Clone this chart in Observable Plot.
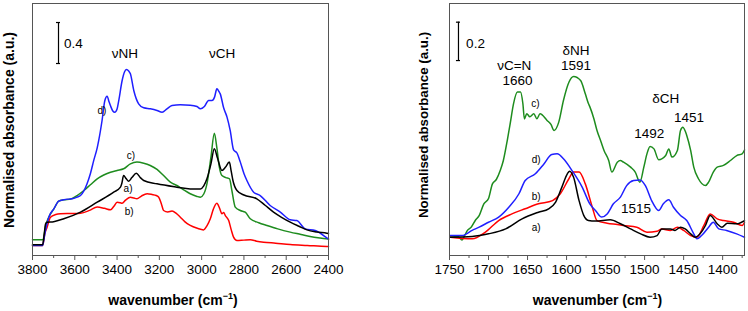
<!DOCTYPE html>
<html><head><meta charset="utf-8">
<script src="https://cdn.jsdelivr.net/npm/d3@7"></script>
<script src="https://cdn.jsdelivr.net/npm/@observablehq/plot@0.6"></script>
<style>
body{margin:0;background:#fff;}
#wrap{position:relative;width:748px;height:311px;font-family:"Liberation Sans",Arial,sans-serif;}
#left{position:absolute;left:0;top:0;}
#right{position:absolute;left:374px;top:0;}
svg{overflow:visible}
</style></head><body><div id="wrap"><div id="left"></div><div id="right"></div></div>
<script>
// ---------- Left panel (3800–2400 cm-1) ----------
const leftMajor=[3800,3600,3400,3200,3000,2800,2600,2400];
const leftMinor=[3700,3500,3300,3100,2900,2700,2500];
// a) black
const leftA=[[3800,0.104],[3752,0.104],[3745,0.2],[3738,0.31],[3731,0.325],[3700,0.33],[3652,0.358],[3573,0.423],[3494,0.52],[3416,0.618],[3384,0.667],[3378,0.70],[3369,0.78],[3357,0.75],[3345,0.725],[3330,0.76],[3309,0.803],[3290,0.76],[3274,0.732],[3211,0.699],[3117,0.667],[3054,0.65],[3006,0.65],[2990,0.68],[2975,0.748],[2956,0.894],[2940,1.041],[2925,0.95],[2904,0.829],[2888,0.86],[2869,0.911],[2860,0.82],[2852,0.732],[2833,0.634],[2800,0.59],[2739,0.553],[2700,0.49],[2660,0.423],[2620,0.37],[2581,0.325],[2540,0.285],[2502,0.25],[2455,0.23],[2408,0.218],[2400,0.215]];
// b) red
const leftB=[[3800,0.098],[3752,0.098],[3742,0.211],[3731,0.276],[3715,0.374],[3690,0.40],[3668,0.407],[3620,0.41],[3573,0.413],[3530,0.44],[3494,0.472],[3460,0.46],[3431,0.446],[3415,0.48],[3400,0.52],[3385,0.515],[3376,0.51],[3360,0.54],[3337,0.569],[3320,0.56],[3306,0.553],[3285,0.58],[3258,0.602],[3235,0.595],[3215,0.585],[3203,0.569],[3190,0.50],[3180,0.439],[3160,0.425],[3140,0.433],[3120,0.41],[3101,0.374],[3080,0.33],[3054,0.293],[3020,0.265],[2991,0.25],[2975,0.29],[2959,0.358],[2945,0.45],[2928,0.51],[2915,0.46],[2904,0.407],[2896,0.42],[2888,0.39],[2872,0.341],[2860,0.25],[2849,0.179],[2833,0.146],[2800,0.15],[2770,0.153],[2740,0.14],[2707,0.13],[2650,0.12],[2581,0.107],[2500,0.098],[2408,0.088],[2400,0.088]];
// c) green
const leftC=[[3800,0.153],[3750,0.153],[3745,0.2],[3739,0.276],[3723,0.374],[3699,0.455],[3676,0.53],[3652,0.543],[3620,0.55],[3589,0.585],[3557,0.634],[3526,0.69],[3494,0.748],[3463,0.785],[3431,0.813],[3400,0.83],[3369,0.846],[3337,0.894],[3306,0.911],[3274,0.90],[3243,0.878],[3211,0.84],[3180,0.78],[3148,0.715],[3117,0.683],[3085,0.64],[3054,0.602],[3022,0.576],[3006,0.569],[2990,0.60],[2975,0.699],[2956,0.959],[2940,1.193],[2928,1.05],[2916,0.86],[2904,0.78],[2885,0.76],[2868,0.748],[2857,0.634],[2841,0.472],[2817,0.439],[2794,0.423],[2770,0.358],[2730,0.32],[2691,0.293],[2640,0.26],[2581,0.228],[2530,0.205],[2487,0.185],[2440,0.17],[2400,0.16]];
// d) blue
const leftD=[[3800,0.098],[3752,0.098],[3745,0.17],[3739,0.24],[3723,0.374],[3699,0.455],[3676,0.53],[3652,0.543],[3630,0.55],[3613,0.553],[3589,0.57],[3573,0.585],[3557,0.63],[3542,0.70],[3526,0.80],[3510,0.93],[3494,1.05],[3487,1.12],[3471,1.317],[3458,1.51],[3447,1.554],[3438,1.50],[3431,1.46],[3420,1.41],[3411,1.398],[3400,1.43],[3392,1.512],[3376,1.707],[3365,1.79],[3356,1.815],[3345,1.80],[3337,1.772],[3321,1.61],[3298,1.48],[3274,1.441],[3243,1.431],[3211,1.415],[3187,1.398],[3164,1.431],[3140,1.463],[3101,1.47],[3054,1.467],[3022,1.454],[3006,1.431],[2987,1.454],[2967,1.512],[2951,1.512],[2939,1.545],[2928,1.626],[2918,1.60],[2912,1.577],[2896,1.441],[2880,1.35],[2865,1.22],[2849,1.03],[2833,1.0],[2817,0.911],[2800,0.80],[2786,0.732],[2754,0.618],[2723,0.585],[2676,0.488],[2628,0.423],[2581,0.348],[2550,0.341],[2510,0.26],[2463,0.244],[2408,0.172],[2400,0.16]];
const leftNotes=[{x:3363,y:1.968,t:"νNH"},{x:2903,y:1.968,t:"νCH"}];
const leftCurveTags=[{x:3472,y:1.415,t:"d)"},{x:3335,y:0.976,t:"c)"},{x:3348,y:0.651,t:"a)"},{x:3343,y:0.429,t:"b)"}];
const leftBar={x:3677,y1:1.873,y2:2.273,cap:9.5,label:"0.4",lx:3651,ly:2.065};

// ---------- Right panel (1750–1372 cm-1) ----------
const rightMajor=[1750,1700,1650,1600,1550,1500,1450,1400];
const rightMinor=[1725,1675,1625,1575,1525,1475,1425,1375];
const rightA=[[1749,0.096],[1721,0.100],[1700,0.114],[1678,0.140],[1657,0.193],[1636,0.228],[1623,0.246],[1614,0.281],[1606,0.360],[1599,0.430],[1596,0.444],[1591,0.412],[1584,0.289],[1578,0.211],[1572,0.184],[1563,0.181],[1544,0.188],[1531,0.167],[1518,0.140],[1505,0.114],[1493,0.096],[1484,0.105],[1478,0.14],[1467,0.14],[1461,0.132],[1454,0.149],[1448,0.140],[1441,0.114],[1435,0.096],[1429,0.114],[1422,0.158],[1416,0.211],[1407,0.167],[1401,0.149],[1394,0.170],[1382,0.167],[1372,0.184]];
const rightB=[[1749,0.096],[1721,0.088],[1704,0.123],[1687,0.184],[1670,0.219],[1653,0.246],[1636,0.272],[1618,0.289],[1608,0.325],[1597,0.404],[1591,0.439],[1584,0.439],[1576,0.377],[1567,0.254],[1561,0.184],[1548,0.170],[1535,0.163],[1527,0.158],[1510,0.149],[1497,0.123],[1484,0.128],[1478,0.140],[1467,0.132],[1458,0.149],[1450,0.132],[1441,0.105],[1433,0.096],[1424,0.158],[1416,0.219],[1407,0.193],[1399,0.184],[1386,0.175],[1375,0.158],[1372,0.175]];
const rightC=[[1749,0.096],[1739,0.10],[1734,0.082],[1730,0.11],[1727,0.132],[1722,0.15],[1717,0.184],[1712,0.21],[1706,0.272],[1700,0.30],[1695,0.377],[1690,0.40],[1685,0.447],[1681,0.50],[1676,0.605],[1672,0.70],[1668,0.798],[1663,0.86],[1659,0.86],[1656,0.80],[1654,0.719],[1651,0.746],[1647,0.73],[1642,0.746],[1638,0.72],[1634,0.746],[1625,0.711],[1620,0.69],[1616,0.658],[1610,0.702],[1604,0.816],[1597,0.912],[1591,0.942],[1582,0.921],[1576,0.851],[1572,0.80],[1570,0.781],[1565,0.72],[1561,0.658],[1556,0.60],[1552,0.553],[1546,0.50],[1542,0.439],[1535,0.491],[1531,0.50],[1527,0.491],[1518,0.465],[1512,0.439],[1506,0.386],[1501,0.465],[1497,0.535],[1493,0.574],[1488,0.561],[1482,0.504],[1473,0.526],[1469,0.561],[1465,0.518],[1458,0.553],[1454,0.658],[1451,0.675],[1446,0.632],[1441,0.553],[1437,0.465],[1431,0.404],[1422,0.368],[1418,0.386],[1412,0.439],[1407,0.465],[1399,0.474],[1390,0.50],[1382,0.526],[1375,0.535],[1372,0.555]];
const rightD=[[1749,0.105],[1734,0.105],[1721,0.132],[1712,0.149],[1700,0.175],[1687,0.202],[1674,0.254],[1661,0.325],[1653,0.395],[1640,0.430],[1629,0.482],[1619,0.532],[1612,0.535],[1604,0.509],[1593,0.447],[1580,0.36],[1570,0.27],[1563,0.237],[1555,0.202],[1548,0.219],[1540,0.272],[1531,0.307],[1523,0.368],[1514,0.395],[1506,0.398],[1499,0.368],[1491,0.289],[1482,0.237],[1476,0.272],[1469,0.293],[1463,0.254],[1454,0.211],[1446,0.184],[1437,0.114],[1433,0.088],[1427,0.105],[1418,0.149],[1412,0.175],[1405,0.14],[1395,0.132],[1382,0.114],[1372,0.096]];
const rightNotes=[{x:1667,y:1.0,t:"νC=N"},{x:1663,y:0.921,t:"1660"},{x:1588,y:1.079,t:"δNH"},{x:1588,y:1.0,t:"1591"},{x:1473,y:0.825,t:"δCH"},{x:1494,y:0.64,t:"1492"},{x:1443,y:0.728,t:"1451"},{x:1511,y:0.246,t:"1515"}];
const rightCurveTags=[{x:1640,y:0.798,t:"c)"},{x:1639,y:0.504,t:"d)"},{x:1639,y:0.307,t:"b)"},{x:1639,y:0.144,t:"a)"}];
const rightBar={x:1738.5,y1:1.026,y2:1.228,cap:2.6,label:"0.2",lx:1728.7,ly:1.114};

const colors={a:"#000000",b:"#ff0000",c:"#1e8c1e",d:"#1f1fff"};
const FONT='"Liberation Sans",Arial,sans-serif';

function toRows(arr){return arr.map(([x,y])=>({x,y}));}

function panel(o){
  const series=[["c",o.c],["b",o.b],["d",o.d],["a",o.a]];
  const svg=Plot.plot({
    width:374,height:311,marginLeft:o.ml,marginRight:o.mr,marginTop:3,marginBottom:56,
    x:{domain:o.xd},y:{domain:o.yd,axis:null},
    style:{fontFamily:FONT,fontSize:"13.5px",color:"#000",background:"transparent",overflow:"visible"},
    marks:[
      ...series.map(([k,d])=>Plot.line(toRows(d),{x:"x",y:"y",stroke:colors[k],strokeWidth:1.5,curve:"monotone-x"})),
      Plot.frame({stroke:"#555",strokeWidth:1}),
      Plot.axisX({ticks:o.major,tickSize:5,tickPadding:3.5,tickFormat:d=>String(d),stroke:"#555",fontSize:13.5,label:null}),
      Plot.axisX({ticks:o.minor,tickSize:3,tickFormat:()=>"",stroke:"#555",label:null}),
      Plot.ruleX([o.bar],{x:"x",y1:"y1",y2:"y2",stroke:"#000",strokeWidth:1.2}),
      Plot.ruleY([o.bar.y1,o.bar.y2],{y:d=>d,x1:o.bar.x+o.bar.cap,x2:o.bar.x-o.bar.cap,stroke:"#000",strokeWidth:1.2}),
      Plot.text([o.bar],{x:"lx",y:"ly",text:"label",textAnchor:"start",fontSize:13.5}),
      Plot.text(o.notes,{x:"x",y:"y",text:"t",fontSize:13.5}),
      Plot.text(o.tags,{x:"x",y:"y",text:"t",fontSize:10})
    ]
  });
  const s=d3.select(svg);
  const t=s.append("text").attr("x",o.tx).attr("y",305).attr("text-anchor","middle")
    .attr("font-family",FONT).attr("font-weight","bold").attr("font-size",14).attr("fill","#000");
  t.append("tspan").text("wavenumber (cm");
  t.append("tspan").text("−1").attr("font-size",9).attr("dy",-6);
  t.append("tspan").text(")").attr("dy",6);
  s.append("text").attr("transform",`translate(${o.yx},${o.yy}) rotate(-90)`).attr("text-anchor","middle")
    .attr("font-family",FONT).attr("font-weight","bold").attr("font-size",o.yfs).attr("fill","#000")
    .text("Normalised absorbance (a.u.)");
  return svg;
}

document.getElementById("left").appendChild(panel({ml:32,mr:46,xd:[3800,2400],yd:[0,252/102.5],
  major:leftMajor,minor:leftMinor,a:leftA,b:leftB,c:leftC,d:leftD,notes:leftNotes,tags:leftCurveTags,bar:leftBar,
  tx:173,yx:14,yy:130,yfs:14}));
document.getElementById("right").appendChild(panel({ml:75,mr:4,xd:[1750,1372],yd:[0,252/190],
  major:rightMajor,minor:rightMinor,a:rightA,b:rightB,c:rightC,d:rightD,notes:rightNotes,tags:rightCurveTags,bar:rightBar,
  tx:223.5,yx:54,yy:125,yfs:13.3}));
</script></body></html>
